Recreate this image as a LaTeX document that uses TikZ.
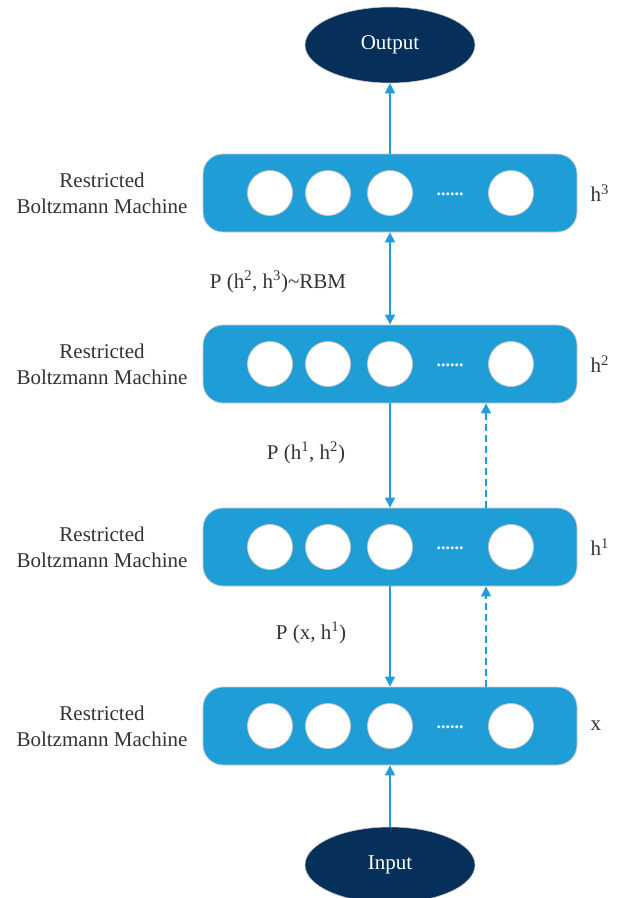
\documentclass[tikz,border=0pt]{standalone}
\usepackage{fontspec}
\setmainfont{Liberation Serif}
\usetikzlibrary{arrows.meta,shapes.geometric,calc}
\definecolor{boxblue}{RGB}{30,157,215}
\definecolor{navy}{RGB}{6,48,90}
\definecolor{txt}{RGB}{51,51,51}
\definecolor{rim}{RGB}{200,200,200}
\tikzset{
  rbmbox/.style={draw=rim, line width=0.8pt, fill=boxblue, rounded corners=20pt, minimum width=374pt, minimum height=78pt, inner sep=0pt},
  unit/.style={circle, draw=rim, line width=0.8pt, fill=white, minimum size=45pt, inner sep=0pt},
  term/.style={ellipse, draw=rim, line width=0.6pt, fill=navy, minimum width=170pt, minimum height=76pt, inner sep=0pt, text=white, font=\fontsize{21}{24}\selectfont},
  lab/.style={text=txt, font=\fontsize{21}{26}\selectfont, align=center},
  arr/.style={draw=boxblue, line width=1.3pt, -{Triangle[width=10pt,length=10pt]}},
  darr/.style={arr, dash pattern=on 7pt off 4pt}
}
\begin{document}
\begin{tikzpicture}[x=1pt,y=-1pt]
\useasboundingbox (0,0) rectangle (622,898);
\node[term] (out) at (390,45) {Output};
\node[term] (in) at (390,865) {Input};
\foreach \n/\y/\h in {1/193/h\textsuperscript{3},2/364/h\textsuperscript{2},3/547/h\textsuperscript{1},4/726/x}{
  \node[rbmbox] (b\n) at (390,\y) {};
  \node[unit] (b\n u1) at (270,\y) {};
  \node[unit] (b\n u2) at (328,\y) {};
  \node[unit] (b\n u3) at (390,\y) {};
  \node[unit] (b\n u4) at (511,\y) {};
  \node[text=white, font=\fontsize{18}{18}\selectfont\bfseries] (b\n d) at (450,\y+1) {......};
  \node[lab] (b\n l) at (102,\y) {Restricted\\Boltzmann Machine};
  \node[lab, anchor=west] (b\n h) at (587,\y) {\h};
}
\node[lab] (p1) at (278,282) {P (h\textsuperscript{2}, h\textsuperscript{3})\textasciitilde RBM};
\node[lab] (p2) at (306,453) {P (h\textsuperscript{1}, h\textsuperscript{2})};
\node[lab] (p3) at (311,633) {P (x, h\textsuperscript{1})};
\draw[arr] (b1.north) -- (out.south);
\draw[arr, {Triangle[width=10pt,length=10pt]}-{Triangle[width=10pt,length=10pt]}] (b1.south) -- (b2.north);
\draw[arr] (b2.south) -- (b3.north);
\draw[arr] (b3.south) -- (b4.north);
\draw[arr] (in.north) -- (b4.south);
\draw[darr] ($(b3.north)+(96,0)$) -- ($(b2.south)+(96,0)$);
\draw[darr] ($(b4.north)+(96,0)$) -- ($(b3.south)+(96,0)$);
\end{tikzpicture}
\end{document}
